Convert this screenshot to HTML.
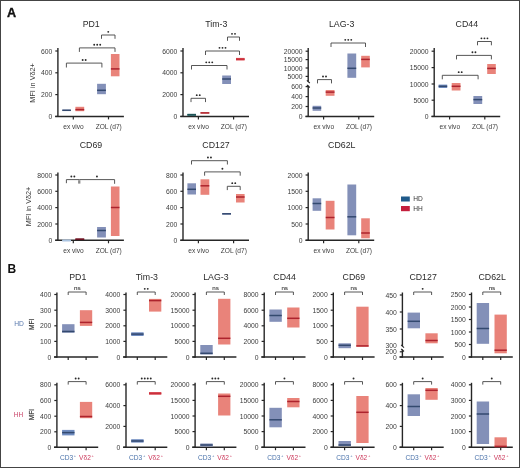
<!DOCTYPE html>
<html><head><meta charset="utf-8"><style>
html,body{margin:0;padding:0;background:#fff;}
body{width:520px;height:468px;overflow:hidden;}
svg{display:block;font-family:"Liberation Sans", sans-serif;will-change:transform;}
</style></head><body>
<svg width="520" height="468" viewBox="0 0 520 468">
<rect x="0" y="0" width="520" height="468" fill="#fff"/>
<text x="7.00" y="17.10" font-size="12.6" text-anchor="start" fill="#111" font-weight="bold" stroke="#111" stroke-width="0.35">A</text>
<text x="7.50" y="272.70" font-size="12.0" text-anchor="start" fill="#111" font-weight="bold" >B</text>
<text transform="translate(91.20 26.68) scale(1 1.1)" font-size="8.8" text-anchor="middle" fill="#2a2a2a">PD1</text>
<line x1="57.90" y1="48.10" x2="57.90" y2="117.10" stroke="#262626" stroke-width="1.4"/>
<line x1="55.30" y1="51.00" x2="57.90" y2="51.00" stroke="#262626" stroke-width="1.2"/>
<text x="52.30" y="53.52" font-size="6.8" text-anchor="end" fill="#3c3c3c" font-weight="normal" >600</text>
<line x1="55.30" y1="72.80" x2="57.90" y2="72.80" stroke="#262626" stroke-width="1.2"/>
<text x="52.30" y="75.32" font-size="6.8" text-anchor="end" fill="#3c3c3c" font-weight="normal" >400</text>
<line x1="55.30" y1="94.60" x2="57.90" y2="94.60" stroke="#262626" stroke-width="1.2"/>
<text x="52.30" y="97.12" font-size="6.8" text-anchor="end" fill="#3c3c3c" font-weight="normal" >200</text>
<line x1="55.30" y1="116.40" x2="57.90" y2="116.40" stroke="#262626" stroke-width="1.2"/>
<text x="52.30" y="118.92" font-size="6.8" text-anchor="end" fill="#3c3c3c" font-weight="normal" >0</text>
<line x1="55.20" y1="116.40" x2="123.90" y2="116.40" stroke="#262626" stroke-width="1.5"/>
<line x1="73.30" y1="116.40" x2="73.30" y2="119.40" stroke="#262626" stroke-width="1.2"/>
<line x1="108.50" y1="116.40" x2="108.50" y2="119.40" stroke="#262626" stroke-width="1.2"/>
<text x="73.50" y="129.00" font-size="6.6" text-anchor="middle" fill="#3c3c3c" font-weight="normal" >ex vivo</text>
<text x="108.70" y="129.00" font-size="6.6" text-anchor="middle" fill="#3c3c3c" font-weight="normal" >ZOL (d7)</text>
<rect x="62.30" y="109.60" width="8.60" height="1.40" fill="#8390b8"/>
<line x1="62.30" y1="110.30" x2="70.90" y2="110.30" stroke="#33496f" stroke-width="1.5"/>
<rect x="75.40" y="106.80" width="8.80" height="4.40" fill="#e9837a"/>
<line x1="75.40" y1="109.60" x2="84.20" y2="109.60" stroke="#ad232d" stroke-width="1.5"/>
<rect x="97.10" y="83.80" width="8.80" height="10.40" fill="#8390b8"/>
<line x1="97.10" y1="90.30" x2="105.90" y2="90.30" stroke="#33496f" stroke-width="1.5"/>
<rect x="110.90" y="54.00" width="8.60" height="22.30" fill="#e9837a"/>
<line x1="110.90" y1="68.90" x2="119.50" y2="68.90" stroke="#ad232d" stroke-width="1.5"/>
<path d="M66.40 67.50 V63.10 H101.90 V67.50" fill="none" stroke="#444444" stroke-width="0.9"/>
<circle cx="82.65" cy="59.95" r="0.95" fill="#2a2a2a"/>
<circle cx="85.65" cy="59.95" r="0.95" fill="#2a2a2a"/>
<path d="M79.40 51.90 V47.90 H115.00 V51.90" fill="none" stroke="#444444" stroke-width="0.9"/>
<circle cx="94.20" cy="44.75" r="0.95" fill="#2a2a2a"/>
<circle cx="97.20" cy="44.75" r="0.95" fill="#2a2a2a"/>
<circle cx="100.20" cy="44.75" r="0.95" fill="#2a2a2a"/>
<path d="M101.50 38.80 V35.00 H115.00 V38.80" fill="none" stroke="#444444" stroke-width="0.9"/>
<circle cx="108.25" cy="31.85" r="0.95" fill="#2a2a2a"/>
<text transform="translate(216.30 26.68) scale(1 1.1)" font-size="8.8" text-anchor="middle" fill="#2a2a2a">Tim-3</text>
<line x1="183.00" y1="48.10" x2="183.00" y2="117.10" stroke="#262626" stroke-width="1.4"/>
<line x1="180.40" y1="51.00" x2="183.00" y2="51.00" stroke="#262626" stroke-width="1.2"/>
<text x="177.40" y="53.52" font-size="6.8" text-anchor="end" fill="#3c3c3c" font-weight="normal" >6000</text>
<line x1="180.40" y1="72.80" x2="183.00" y2="72.80" stroke="#262626" stroke-width="1.2"/>
<text x="177.40" y="75.32" font-size="6.8" text-anchor="end" fill="#3c3c3c" font-weight="normal" >4000</text>
<line x1="180.40" y1="94.60" x2="183.00" y2="94.60" stroke="#262626" stroke-width="1.2"/>
<text x="177.40" y="97.12" font-size="6.8" text-anchor="end" fill="#3c3c3c" font-weight="normal" >2000</text>
<line x1="180.40" y1="116.40" x2="183.00" y2="116.40" stroke="#262626" stroke-width="1.2"/>
<text x="177.40" y="118.92" font-size="6.8" text-anchor="end" fill="#3c3c3c" font-weight="normal" >0</text>
<line x1="180.30" y1="116.40" x2="249.00" y2="116.40" stroke="#262626" stroke-width="1.5"/>
<line x1="198.40" y1="116.40" x2="198.40" y2="119.40" stroke="#262626" stroke-width="1.2"/>
<line x1="233.60" y1="116.40" x2="233.60" y2="119.40" stroke="#262626" stroke-width="1.2"/>
<text x="198.60" y="129.00" font-size="6.6" text-anchor="middle" fill="#3c3c3c" font-weight="normal" >ex vivo</text>
<text x="233.80" y="129.00" font-size="6.6" text-anchor="middle" fill="#3c3c3c" font-weight="normal" >ZOL (d7)</text>
<rect x="187.40" y="113.80" width="8.60" height="2.00" fill="#2d6b6e"/>
<line x1="187.40" y1="114.80" x2="196.00" y2="114.80" stroke="#1f5456" stroke-width="1.5"/>
<rect x="200.50" y="112.20" width="8.80" height="1.40" fill="#e9837a"/>
<line x1="200.50" y1="112.90" x2="209.30" y2="112.90" stroke="#ad232d" stroke-width="1.5"/>
<rect x="222.20" y="75.50" width="8.80" height="8.50" fill="#8390b8"/>
<line x1="222.20" y1="79.00" x2="231.00" y2="79.00" stroke="#33496f" stroke-width="1.5"/>
<rect x="236.00" y="57.90" width="8.60" height="2.60" fill="#e05058"/>
<line x1="236.00" y1="59.20" x2="244.60" y2="59.20" stroke="#c8303c" stroke-width="1.5"/>
<path d="M191.00 102.10 V98.30 H205.50 V102.10" fill="none" stroke="#444444" stroke-width="0.9"/>
<circle cx="196.75" cy="95.15" r="0.95" fill="#2a2a2a"/>
<circle cx="199.75" cy="95.15" r="0.95" fill="#2a2a2a"/>
<path d="M191.50 69.50 V65.50 H227.00 V69.50" fill="none" stroke="#444444" stroke-width="0.9"/>
<circle cx="206.25" cy="62.35" r="0.95" fill="#2a2a2a"/>
<circle cx="209.25" cy="62.35" r="0.95" fill="#2a2a2a"/>
<circle cx="212.25" cy="62.35" r="0.95" fill="#2a2a2a"/>
<path d="M205.50 55.00 V51.00 H239.50 V55.00" fill="none" stroke="#444444" stroke-width="0.9"/>
<circle cx="219.50" cy="47.85" r="0.95" fill="#2a2a2a"/>
<circle cx="222.50" cy="47.85" r="0.95" fill="#2a2a2a"/>
<circle cx="225.50" cy="47.85" r="0.95" fill="#2a2a2a"/>
<path d="M227.50 40.80 V37.00 H239.50 V40.80" fill="none" stroke="#444444" stroke-width="0.9"/>
<circle cx="232.00" cy="33.85" r="0.95" fill="#2a2a2a"/>
<circle cx="235.00" cy="33.85" r="0.95" fill="#2a2a2a"/>
<text transform="translate(341.60 26.68) scale(1 1.1)" font-size="8.8" text-anchor="middle" fill="#2a2a2a">LAG-3</text>
<line x1="308.20" y1="48.10" x2="308.20" y2="81.60" stroke="#262626" stroke-width="1.4"/>
<line x1="308.20" y1="85.40" x2="308.20" y2="117.10" stroke="#262626" stroke-width="1.4"/>
<line x1="306.90" y1="80.30" x2="309.80" y2="83.00" stroke="#262626" stroke-width="1.1"/>
<line x1="306.90" y1="84.80" x2="309.80" y2="87.50" stroke="#262626" stroke-width="1.1"/>
<line x1="305.60" y1="51.20" x2="308.20" y2="51.20" stroke="#262626" stroke-width="1.2"/>
<text x="302.60" y="53.72" font-size="6.8" text-anchor="end" fill="#3c3c3c" font-weight="normal" >20000</text>
<line x1="305.60" y1="59.60" x2="308.20" y2="59.60" stroke="#262626" stroke-width="1.2"/>
<text x="302.60" y="62.12" font-size="6.8" text-anchor="end" fill="#3c3c3c" font-weight="normal" >15000</text>
<line x1="305.60" y1="68.00" x2="308.20" y2="68.00" stroke="#262626" stroke-width="1.2"/>
<text x="302.60" y="70.52" font-size="6.8" text-anchor="end" fill="#3c3c3c" font-weight="normal" >10000</text>
<line x1="305.60" y1="76.40" x2="308.20" y2="76.40" stroke="#262626" stroke-width="1.2"/>
<text x="302.60" y="78.92" font-size="6.8" text-anchor="end" fill="#3c3c3c" font-weight="normal" >5000</text>
<line x1="305.60" y1="86.60" x2="308.20" y2="86.60" stroke="#262626" stroke-width="1.2"/>
<text x="302.60" y="89.12" font-size="6.8" text-anchor="end" fill="#3c3c3c" font-weight="normal" >600</text>
<line x1="305.60" y1="96.60" x2="308.20" y2="96.60" stroke="#262626" stroke-width="1.2"/>
<text x="302.60" y="99.12" font-size="6.8" text-anchor="end" fill="#3c3c3c" font-weight="normal" >400</text>
<line x1="305.60" y1="106.50" x2="308.20" y2="106.50" stroke="#262626" stroke-width="1.2"/>
<text x="302.60" y="109.02" font-size="6.8" text-anchor="end" fill="#3c3c3c" font-weight="normal" >200</text>
<line x1="305.60" y1="116.40" x2="308.20" y2="116.40" stroke="#262626" stroke-width="1.2"/>
<text x="302.60" y="118.92" font-size="6.8" text-anchor="end" fill="#3c3c3c" font-weight="normal" >0</text>
<line x1="305.50" y1="116.40" x2="374.20" y2="116.40" stroke="#262626" stroke-width="1.5"/>
<line x1="323.60" y1="116.40" x2="323.60" y2="119.40" stroke="#262626" stroke-width="1.2"/>
<line x1="358.80" y1="116.40" x2="358.80" y2="119.40" stroke="#262626" stroke-width="1.2"/>
<text x="323.80" y="129.00" font-size="6.6" text-anchor="middle" fill="#3c3c3c" font-weight="normal" >ex vivo</text>
<text x="359.00" y="129.00" font-size="6.6" text-anchor="middle" fill="#3c3c3c" font-weight="normal" >ZOL (d7)</text>
<rect x="312.60" y="105.80" width="8.60" height="5.00" fill="#8390b8"/>
<line x1="312.60" y1="108.00" x2="321.20" y2="108.00" stroke="#33496f" stroke-width="1.5"/>
<rect x="325.70" y="90.00" width="8.80" height="5.80" fill="#e9837a"/>
<line x1="325.70" y1="92.10" x2="334.50" y2="92.10" stroke="#ad232d" stroke-width="1.5"/>
<rect x="347.40" y="53.50" width="8.80" height="24.30" fill="#8390b8"/>
<line x1="347.40" y1="68.30" x2="356.20" y2="68.30" stroke="#33496f" stroke-width="1.5"/>
<rect x="361.20" y="55.80" width="8.60" height="11.60" fill="#e9837a"/>
<line x1="361.20" y1="59.40" x2="369.80" y2="59.40" stroke="#ad232d" stroke-width="1.5"/>
<path d="M317.50 83.40 V79.60 H331.50 V83.40" fill="none" stroke="#444444" stroke-width="0.9"/>
<circle cx="323.00" cy="76.45" r="0.95" fill="#2a2a2a"/>
<circle cx="326.00" cy="76.45" r="0.95" fill="#2a2a2a"/>
<path d="M331.00 47.00 V43.00 H365.50 V47.00" fill="none" stroke="#444444" stroke-width="0.9"/>
<circle cx="345.25" cy="39.85" r="0.95" fill="#2a2a2a"/>
<circle cx="348.25" cy="39.85" r="0.95" fill="#2a2a2a"/>
<circle cx="351.25" cy="39.85" r="0.95" fill="#2a2a2a"/>
<text transform="translate(466.80 26.68) scale(1 1.1)" font-size="8.8" text-anchor="middle" fill="#2a2a2a">CD44</text>
<line x1="434.20" y1="48.10" x2="434.20" y2="117.10" stroke="#262626" stroke-width="1.4"/>
<line x1="431.60" y1="51.20" x2="434.20" y2="51.20" stroke="#262626" stroke-width="1.2"/>
<text x="428.60" y="53.72" font-size="6.8" text-anchor="end" fill="#3c3c3c" font-weight="normal" >20000</text>
<line x1="431.60" y1="67.60" x2="434.20" y2="67.60" stroke="#262626" stroke-width="1.2"/>
<text x="428.60" y="70.12" font-size="6.8" text-anchor="end" fill="#3c3c3c" font-weight="normal" >15000</text>
<line x1="431.60" y1="84.00" x2="434.20" y2="84.00" stroke="#262626" stroke-width="1.2"/>
<text x="428.60" y="86.52" font-size="6.8" text-anchor="end" fill="#3c3c3c" font-weight="normal" >10000</text>
<line x1="431.60" y1="100.20" x2="434.20" y2="100.20" stroke="#262626" stroke-width="1.2"/>
<text x="428.60" y="102.72" font-size="6.8" text-anchor="end" fill="#3c3c3c" font-weight="normal" >5000</text>
<line x1="431.60" y1="116.40" x2="434.20" y2="116.40" stroke="#262626" stroke-width="1.2"/>
<text x="428.60" y="118.92" font-size="6.8" text-anchor="end" fill="#3c3c3c" font-weight="normal" >0</text>
<line x1="431.50" y1="116.40" x2="500.20" y2="116.40" stroke="#262626" stroke-width="1.5"/>
<line x1="449.60" y1="116.40" x2="449.60" y2="119.40" stroke="#262626" stroke-width="1.2"/>
<line x1="484.80" y1="116.40" x2="484.80" y2="119.40" stroke="#262626" stroke-width="1.2"/>
<text x="449.80" y="129.00" font-size="6.6" text-anchor="middle" fill="#3c3c3c" font-weight="normal" >ex vivo</text>
<text x="485.00" y="129.00" font-size="6.6" text-anchor="middle" fill="#3c3c3c" font-weight="normal" >ZOL (d7)</text>
<rect x="438.60" y="84.60" width="8.60" height="3.40" fill="#6f8cc0"/>
<line x1="438.60" y1="86.30" x2="447.20" y2="86.30" stroke="#33496f" stroke-width="1.5"/>
<rect x="451.70" y="83.00" width="8.80" height="7.50" fill="#e9837a"/>
<line x1="451.70" y1="86.30" x2="460.50" y2="86.30" stroke="#ad232d" stroke-width="1.5"/>
<rect x="473.40" y="96.00" width="8.80" height="8.00" fill="#8390b8"/>
<line x1="473.40" y1="99.60" x2="482.20" y2="99.60" stroke="#33496f" stroke-width="1.5"/>
<rect x="487.20" y="64.00" width="8.60" height="10.00" fill="#e9837a"/>
<line x1="487.20" y1="68.40" x2="495.80" y2="68.40" stroke="#ad232d" stroke-width="1.5"/>
<path d="M442.30 79.30 V75.30 H478.10 V79.30" fill="none" stroke="#444444" stroke-width="0.9"/>
<circle cx="458.70" cy="72.15" r="0.95" fill="#2a2a2a"/>
<circle cx="461.70" cy="72.15" r="0.95" fill="#2a2a2a"/>
<path d="M456.50 59.40 V55.40 H491.40 V59.40" fill="none" stroke="#444444" stroke-width="0.9"/>
<circle cx="472.45" cy="52.25" r="0.95" fill="#2a2a2a"/>
<circle cx="475.45" cy="52.25" r="0.95" fill="#2a2a2a"/>
<path d="M477.50 45.30 V41.50 H491.40 V45.30" fill="none" stroke="#444444" stroke-width="0.9"/>
<circle cx="481.45" cy="38.35" r="0.95" fill="#2a2a2a"/>
<circle cx="484.45" cy="38.35" r="0.95" fill="#2a2a2a"/>
<circle cx="487.45" cy="38.35" r="0.95" fill="#2a2a2a"/>
<text transform="translate(91.00 147.68) scale(1 1.1)" font-size="8.8" text-anchor="middle" fill="#2a2a2a">CD69</text>
<line x1="57.90" y1="172.50" x2="57.90" y2="241.00" stroke="#262626" stroke-width="1.4"/>
<line x1="55.30" y1="175.00" x2="57.90" y2="175.00" stroke="#262626" stroke-width="1.2"/>
<text x="52.30" y="177.52" font-size="6.8" text-anchor="end" fill="#3c3c3c" font-weight="normal" >8000</text>
<line x1="55.30" y1="191.30" x2="57.90" y2="191.30" stroke="#262626" stroke-width="1.2"/>
<text x="52.30" y="193.82" font-size="6.8" text-anchor="end" fill="#3c3c3c" font-weight="normal" >6000</text>
<line x1="55.30" y1="207.60" x2="57.90" y2="207.60" stroke="#262626" stroke-width="1.2"/>
<text x="52.30" y="210.12" font-size="6.8" text-anchor="end" fill="#3c3c3c" font-weight="normal" >4000</text>
<line x1="55.30" y1="224.00" x2="57.90" y2="224.00" stroke="#262626" stroke-width="1.2"/>
<text x="52.30" y="226.52" font-size="6.8" text-anchor="end" fill="#3c3c3c" font-weight="normal" >2000</text>
<line x1="55.30" y1="240.30" x2="57.90" y2="240.30" stroke="#262626" stroke-width="1.2"/>
<text x="52.30" y="242.82" font-size="6.8" text-anchor="end" fill="#3c3c3c" font-weight="normal" >0</text>
<line x1="55.20" y1="240.30" x2="123.90" y2="240.30" stroke="#262626" stroke-width="1.5"/>
<line x1="73.30" y1="240.30" x2="73.30" y2="243.30" stroke="#262626" stroke-width="1.2"/>
<line x1="108.50" y1="240.30" x2="108.50" y2="243.30" stroke="#262626" stroke-width="1.2"/>
<text x="73.50" y="252.90" font-size="6.6" text-anchor="middle" fill="#3c3c3c" font-weight="normal" >ex vivo</text>
<text x="108.70" y="252.90" font-size="6.6" text-anchor="middle" fill="#3c3c3c" font-weight="normal" >ZOL (d7)</text>
<rect x="62.30" y="239.60" width="8.60" height="1.80" fill="#b8cde6"/>
<line x1="62.30" y1="240.50" x2="70.90" y2="240.50" stroke="#a9c3e0" stroke-width="1.5"/>
<rect x="75.40" y="238.50" width="8.80" height="1.50" fill="#7a1a28"/>
<line x1="75.40" y1="239.30" x2="84.20" y2="239.30" stroke="#6a1020" stroke-width="1.5"/>
<rect x="97.10" y="227.00" width="8.80" height="10.50" fill="#8390b8"/>
<line x1="97.10" y1="230.50" x2="105.90" y2="230.50" stroke="#33496f" stroke-width="1.5"/>
<rect x="110.90" y="186.50" width="8.60" height="49.50" fill="#e9837a"/>
<line x1="110.90" y1="207.50" x2="119.50" y2="207.50" stroke="#ad232d" stroke-width="1.5"/>
<path d="M66.40 183.20 V179.60 H79.30 V179.60" fill="none" stroke="#444444" stroke-width="0.9"/>
<circle cx="71.35" cy="176.45" r="0.95" fill="#2a2a2a"/>
<circle cx="74.35" cy="176.45" r="0.95" fill="#2a2a2a"/>
<path d="M79.30 179.60 V179.60 H114.60 V183.80" fill="none" stroke="#444444" stroke-width="0.9"/>
<circle cx="96.95" cy="176.45" r="0.95" fill="#2a2a2a"/>
<rect x="78.1" y="180.2" width="2.3" height="3.4" fill="#8a8a8a"/>
<text transform="translate(216.00 147.68) scale(1 1.1)" font-size="8.8" text-anchor="middle" fill="#2a2a2a">CD127</text>
<line x1="183.00" y1="172.50" x2="183.00" y2="241.00" stroke="#262626" stroke-width="1.4"/>
<line x1="180.40" y1="175.00" x2="183.00" y2="175.00" stroke="#262626" stroke-width="1.2"/>
<text x="177.40" y="177.52" font-size="6.8" text-anchor="end" fill="#3c3c3c" font-weight="normal" >800</text>
<line x1="180.40" y1="191.30" x2="183.00" y2="191.30" stroke="#262626" stroke-width="1.2"/>
<text x="177.40" y="193.82" font-size="6.8" text-anchor="end" fill="#3c3c3c" font-weight="normal" >600</text>
<line x1="180.40" y1="207.60" x2="183.00" y2="207.60" stroke="#262626" stroke-width="1.2"/>
<text x="177.40" y="210.12" font-size="6.8" text-anchor="end" fill="#3c3c3c" font-weight="normal" >400</text>
<line x1="180.40" y1="224.00" x2="183.00" y2="224.00" stroke="#262626" stroke-width="1.2"/>
<text x="177.40" y="226.52" font-size="6.8" text-anchor="end" fill="#3c3c3c" font-weight="normal" >200</text>
<line x1="180.40" y1="240.30" x2="183.00" y2="240.30" stroke="#262626" stroke-width="1.2"/>
<text x="177.40" y="242.82" font-size="6.8" text-anchor="end" fill="#3c3c3c" font-weight="normal" >0</text>
<line x1="180.30" y1="240.30" x2="249.00" y2="240.30" stroke="#262626" stroke-width="1.5"/>
<line x1="198.40" y1="240.30" x2="198.40" y2="243.30" stroke="#262626" stroke-width="1.2"/>
<line x1="233.60" y1="240.30" x2="233.60" y2="243.30" stroke="#262626" stroke-width="1.2"/>
<text x="198.60" y="252.90" font-size="6.6" text-anchor="middle" fill="#3c3c3c" font-weight="normal" >ex vivo</text>
<text x="233.80" y="252.90" font-size="6.6" text-anchor="middle" fill="#3c3c3c" font-weight="normal" >ZOL (d7)</text>
<rect x="187.40" y="183.30" width="8.60" height="11.20" fill="#8390b8"/>
<line x1="187.40" y1="189.30" x2="196.00" y2="189.30" stroke="#33496f" stroke-width="1.5"/>
<rect x="200.50" y="179.30" width="8.80" height="15.50" fill="#e9837a"/>
<line x1="200.50" y1="185.80" x2="209.30" y2="185.80" stroke="#ad232d" stroke-width="1.5"/>
<rect x="222.20" y="213.00" width="8.80" height="1.60" fill="#8390b8"/>
<line x1="222.20" y1="213.80" x2="231.00" y2="213.80" stroke="#33496f" stroke-width="1.5"/>
<rect x="236.00" y="194.00" width="8.60" height="8.50" fill="#e9837a"/>
<line x1="236.00" y1="197.00" x2="244.60" y2="197.00" stroke="#ad232d" stroke-width="1.5"/>
<path d="M191.50 164.50 V160.70 H227.40 V164.50" fill="none" stroke="#444444" stroke-width="0.9"/>
<circle cx="207.95" cy="157.55" r="0.95" fill="#2a2a2a"/>
<circle cx="210.95" cy="157.55" r="0.95" fill="#2a2a2a"/>
<path d="M204.60 175.70 V171.90 H240.20 V175.70" fill="none" stroke="#444444" stroke-width="0.9"/>
<circle cx="222.40" cy="168.75" r="0.95" fill="#2a2a2a"/>
<path d="M227.30 190.10 V186.30 H240.20 V190.10" fill="none" stroke="#444444" stroke-width="0.9"/>
<circle cx="232.25" cy="183.15" r="0.95" fill="#2a2a2a"/>
<circle cx="235.25" cy="183.15" r="0.95" fill="#2a2a2a"/>
<text transform="translate(341.80 147.68) scale(1 1.1)" font-size="8.8" text-anchor="middle" fill="#2a2a2a">CD62L</text>
<line x1="308.20" y1="172.50" x2="308.20" y2="241.00" stroke="#262626" stroke-width="1.4"/>
<line x1="305.60" y1="175.00" x2="308.20" y2="175.00" stroke="#262626" stroke-width="1.2"/>
<text x="302.60" y="177.52" font-size="6.8" text-anchor="end" fill="#3c3c3c" font-weight="normal" >2000</text>
<line x1="305.60" y1="191.30" x2="308.20" y2="191.30" stroke="#262626" stroke-width="1.2"/>
<text x="302.60" y="193.82" font-size="6.8" text-anchor="end" fill="#3c3c3c" font-weight="normal" >1500</text>
<line x1="305.60" y1="207.60" x2="308.20" y2="207.60" stroke="#262626" stroke-width="1.2"/>
<text x="302.60" y="210.12" font-size="6.8" text-anchor="end" fill="#3c3c3c" font-weight="normal" >1000</text>
<line x1="305.60" y1="224.00" x2="308.20" y2="224.00" stroke="#262626" stroke-width="1.2"/>
<text x="302.60" y="226.52" font-size="6.8" text-anchor="end" fill="#3c3c3c" font-weight="normal" >500</text>
<line x1="305.60" y1="240.30" x2="308.20" y2="240.30" stroke="#262626" stroke-width="1.2"/>
<text x="302.60" y="242.82" font-size="6.8" text-anchor="end" fill="#3c3c3c" font-weight="normal" >0</text>
<line x1="305.50" y1="240.30" x2="374.20" y2="240.30" stroke="#262626" stroke-width="1.5"/>
<line x1="323.60" y1="240.30" x2="323.60" y2="243.30" stroke="#262626" stroke-width="1.2"/>
<line x1="358.80" y1="240.30" x2="358.80" y2="243.30" stroke="#262626" stroke-width="1.2"/>
<text x="323.80" y="252.90" font-size="6.6" text-anchor="middle" fill="#3c3c3c" font-weight="normal" >ex vivo</text>
<text x="359.00" y="252.90" font-size="6.6" text-anchor="middle" fill="#3c3c3c" font-weight="normal" >ZOL (d7)</text>
<rect x="312.60" y="198.30" width="8.60" height="12.50" fill="#8390b8"/>
<line x1="312.60" y1="203.50" x2="321.20" y2="203.50" stroke="#33496f" stroke-width="1.5"/>
<rect x="325.70" y="200.80" width="8.80" height="28.70" fill="#e9837a"/>
<line x1="325.70" y1="217.50" x2="334.50" y2="217.50" stroke="#ad232d" stroke-width="1.5"/>
<rect x="347.40" y="184.50" width="8.80" height="50.80" fill="#8390b8"/>
<line x1="347.40" y1="216.80" x2="356.20" y2="216.80" stroke="#33496f" stroke-width="1.5"/>
<rect x="361.20" y="218.30" width="8.60" height="20.00" fill="#e9837a"/>
<line x1="361.20" y1="233.00" x2="369.80" y2="233.00" stroke="#ad232d" stroke-width="1.5"/>
<text transform="translate(34.6 82.9) rotate(-90)" font-size="7.3" text-anchor="middle" fill="#3c3c3c">MFI in V&#948;2+</text>
<text transform="translate(31.0 206.4) rotate(-90)" font-size="7.3" text-anchor="middle" fill="#3c3c3c">MFI in V&#948;2+</text>
<rect x="401.0" y="196.5" width="8.8" height="5.0" fill="#1f5a8a"/>
<rect x="401.0" y="206.0" width="8.8" height="5.2" fill="#c41f3c"/>
<text x="413.30" y="201.30" font-size="6.6" text-anchor="start" fill="#333" font-weight="normal" >HD</text>
<text x="413.30" y="211.00" font-size="6.6" text-anchor="start" fill="#333" font-weight="normal" >HH</text>
<text transform="translate(77.80 280.38) scale(1 1.1)" font-size="8.8" text-anchor="middle" fill="#2a2a2a">PD1</text>
<line x1="56.90" y1="292.50" x2="56.90" y2="357.70" stroke="#262626" stroke-width="1.4"/>
<line x1="54.30" y1="294.50" x2="56.90" y2="294.50" stroke="#262626" stroke-width="1.2"/>
<text x="51.30" y="297.02" font-size="6.8" text-anchor="end" fill="#3c3c3c" font-weight="normal" >400</text>
<line x1="54.30" y1="310.20" x2="56.90" y2="310.20" stroke="#262626" stroke-width="1.2"/>
<text x="51.30" y="312.72" font-size="6.8" text-anchor="end" fill="#3c3c3c" font-weight="normal" >300</text>
<line x1="54.30" y1="325.80" x2="56.90" y2="325.80" stroke="#262626" stroke-width="1.2"/>
<text x="51.30" y="328.32" font-size="6.8" text-anchor="end" fill="#3c3c3c" font-weight="normal" >200</text>
<line x1="54.30" y1="341.40" x2="56.90" y2="341.40" stroke="#262626" stroke-width="1.2"/>
<text x="51.30" y="343.92" font-size="6.8" text-anchor="end" fill="#3c3c3c" font-weight="normal" >100</text>
<line x1="54.30" y1="357.00" x2="56.90" y2="357.00" stroke="#262626" stroke-width="1.2"/>
<text x="51.30" y="359.52" font-size="6.8" text-anchor="end" fill="#3c3c3c" font-weight="normal" >0</text>
<line x1="54.00" y1="357.00" x2="98.20" y2="357.00" stroke="#262626" stroke-width="1.5"/>
<line x1="68.20" y1="357.00" x2="68.20" y2="360.00" stroke="#262626" stroke-width="1.2"/>
<line x1="86.10" y1="357.00" x2="86.10" y2="360.00" stroke="#262626" stroke-width="1.2"/>
<rect x="62.10" y="324.20" width="12.40" height="8.50" fill="#8390b8"/>
<line x1="62.10" y1="331.50" x2="74.50" y2="331.50" stroke="#33496f" stroke-width="1.5"/>
<rect x="79.90" y="310.20" width="12.30" height="15.70" fill="#e9837a"/>
<line x1="79.90" y1="322.40" x2="92.20" y2="322.40" stroke="#ad232d" stroke-width="1.5"/>
<path d="M68.20 295.00 V292.00 H86.10 V295.00" fill="none" stroke="#444444" stroke-width="0.9"/>
<text x="77.35" y="289.80" font-size="6.2" text-anchor="middle" fill="#333" font-weight="normal" stroke="#333" stroke-width="0.1">ns</text>
<text transform="translate(146.90 280.38) scale(1 1.1)" font-size="8.8" text-anchor="middle" fill="#2a2a2a">Tim-3</text>
<line x1="126.00" y1="292.50" x2="126.00" y2="357.70" stroke="#262626" stroke-width="1.4"/>
<line x1="123.40" y1="294.50" x2="126.00" y2="294.50" stroke="#262626" stroke-width="1.2"/>
<text x="120.40" y="297.02" font-size="6.8" text-anchor="end" fill="#3c3c3c" font-weight="normal" >4000</text>
<line x1="123.40" y1="310.20" x2="126.00" y2="310.20" stroke="#262626" stroke-width="1.2"/>
<text x="120.40" y="312.72" font-size="6.8" text-anchor="end" fill="#3c3c3c" font-weight="normal" >3000</text>
<line x1="123.40" y1="325.80" x2="126.00" y2="325.80" stroke="#262626" stroke-width="1.2"/>
<text x="120.40" y="328.32" font-size="6.8" text-anchor="end" fill="#3c3c3c" font-weight="normal" >2000</text>
<line x1="123.40" y1="341.40" x2="126.00" y2="341.40" stroke="#262626" stroke-width="1.2"/>
<text x="120.40" y="343.92" font-size="6.8" text-anchor="end" fill="#3c3c3c" font-weight="normal" >1000</text>
<line x1="123.40" y1="357.00" x2="126.00" y2="357.00" stroke="#262626" stroke-width="1.2"/>
<text x="120.40" y="359.52" font-size="6.8" text-anchor="end" fill="#3c3c3c" font-weight="normal" >0</text>
<line x1="123.10" y1="357.00" x2="167.30" y2="357.00" stroke="#262626" stroke-width="1.5"/>
<line x1="137.30" y1="357.00" x2="137.30" y2="360.00" stroke="#262626" stroke-width="1.2"/>
<line x1="155.20" y1="357.00" x2="155.20" y2="360.00" stroke="#262626" stroke-width="1.2"/>
<rect x="131.20" y="332.30" width="12.40" height="3.70" fill="#6f8cc0"/>
<line x1="131.20" y1="334.10" x2="143.60" y2="334.10" stroke="#33496f" stroke-width="1.5"/>
<rect x="149.00" y="298.90" width="12.30" height="12.70" fill="#e9837a"/>
<line x1="149.00" y1="300.60" x2="161.30" y2="300.60" stroke="#ad232d" stroke-width="1.5"/>
<path d="M137.30 295.00 V292.00 H155.20 V295.00" fill="none" stroke="#444444" stroke-width="0.9"/>
<circle cx="144.75" cy="288.85" r="0.95" fill="#2a2a2a"/>
<circle cx="147.75" cy="288.85" r="0.95" fill="#2a2a2a"/>
<text transform="translate(215.90 280.38) scale(1 1.1)" font-size="8.8" text-anchor="middle" fill="#2a2a2a">LAG-3</text>
<line x1="195.10" y1="292.50" x2="195.10" y2="357.70" stroke="#262626" stroke-width="1.4"/>
<line x1="192.50" y1="294.50" x2="195.10" y2="294.50" stroke="#262626" stroke-width="1.2"/>
<text x="189.50" y="297.02" font-size="6.8" text-anchor="end" fill="#3c3c3c" font-weight="normal" >20000</text>
<line x1="192.50" y1="310.20" x2="195.10" y2="310.20" stroke="#262626" stroke-width="1.2"/>
<text x="189.50" y="312.72" font-size="6.8" text-anchor="end" fill="#3c3c3c" font-weight="normal" >15000</text>
<line x1="192.50" y1="325.80" x2="195.10" y2="325.80" stroke="#262626" stroke-width="1.2"/>
<text x="189.50" y="328.32" font-size="6.8" text-anchor="end" fill="#3c3c3c" font-weight="normal" >10000</text>
<line x1="192.50" y1="341.40" x2="195.10" y2="341.40" stroke="#262626" stroke-width="1.2"/>
<text x="189.50" y="343.92" font-size="6.8" text-anchor="end" fill="#3c3c3c" font-weight="normal" >5000</text>
<line x1="192.50" y1="357.00" x2="195.10" y2="357.00" stroke="#262626" stroke-width="1.2"/>
<text x="189.50" y="359.52" font-size="6.8" text-anchor="end" fill="#3c3c3c" font-weight="normal" >0</text>
<line x1="192.20" y1="357.00" x2="236.40" y2="357.00" stroke="#262626" stroke-width="1.5"/>
<line x1="206.40" y1="357.00" x2="206.40" y2="360.00" stroke="#262626" stroke-width="1.2"/>
<line x1="224.30" y1="357.00" x2="224.30" y2="360.00" stroke="#262626" stroke-width="1.2"/>
<rect x="200.30" y="345.00" width="12.40" height="9.50" fill="#8390b8"/>
<line x1="200.30" y1="353.30" x2="212.70" y2="353.30" stroke="#33496f" stroke-width="1.5"/>
<rect x="218.10" y="298.80" width="12.30" height="45.70" fill="#e9837a"/>
<line x1="218.10" y1="338.30" x2="230.40" y2="338.30" stroke="#ad232d" stroke-width="1.5"/>
<path d="M206.40 295.00 V292.00 H224.30 V295.00" fill="none" stroke="#444444" stroke-width="0.9"/>
<text x="215.55" y="289.80" font-size="6.2" text-anchor="middle" fill="#333" font-weight="normal" stroke="#333" stroke-width="0.1">ns</text>
<text transform="translate(284.60 280.38) scale(1 1.1)" font-size="8.8" text-anchor="middle" fill="#2a2a2a">CD44</text>
<line x1="264.20" y1="292.50" x2="264.20" y2="357.70" stroke="#262626" stroke-width="1.4"/>
<line x1="261.60" y1="294.50" x2="264.20" y2="294.50" stroke="#262626" stroke-width="1.2"/>
<text x="258.60" y="297.02" font-size="6.8" text-anchor="end" fill="#3c3c3c" font-weight="normal" >8000</text>
<line x1="261.60" y1="310.20" x2="264.20" y2="310.20" stroke="#262626" stroke-width="1.2"/>
<text x="258.60" y="312.72" font-size="6.8" text-anchor="end" fill="#3c3c3c" font-weight="normal" >6000</text>
<line x1="261.60" y1="325.80" x2="264.20" y2="325.80" stroke="#262626" stroke-width="1.2"/>
<text x="258.60" y="328.32" font-size="6.8" text-anchor="end" fill="#3c3c3c" font-weight="normal" >4000</text>
<line x1="261.60" y1="341.40" x2="264.20" y2="341.40" stroke="#262626" stroke-width="1.2"/>
<text x="258.60" y="343.92" font-size="6.8" text-anchor="end" fill="#3c3c3c" font-weight="normal" >2000</text>
<line x1="261.60" y1="357.00" x2="264.20" y2="357.00" stroke="#262626" stroke-width="1.2"/>
<text x="258.60" y="359.52" font-size="6.8" text-anchor="end" fill="#3c3c3c" font-weight="normal" >0</text>
<line x1="261.30" y1="357.00" x2="305.50" y2="357.00" stroke="#262626" stroke-width="1.5"/>
<line x1="275.50" y1="357.00" x2="275.50" y2="360.00" stroke="#262626" stroke-width="1.2"/>
<line x1="293.40" y1="357.00" x2="293.40" y2="360.00" stroke="#262626" stroke-width="1.2"/>
<rect x="269.40" y="309.50" width="12.40" height="12.30" fill="#8390b8"/>
<line x1="269.40" y1="315.50" x2="281.80" y2="315.50" stroke="#33496f" stroke-width="1.5"/>
<rect x="287.20" y="307.50" width="12.30" height="20.00" fill="#e9837a"/>
<line x1="287.20" y1="318.30" x2="299.50" y2="318.30" stroke="#ad232d" stroke-width="1.5"/>
<path d="M275.50 295.00 V292.00 H293.40 V295.00" fill="none" stroke="#444444" stroke-width="0.9"/>
<text x="284.65" y="289.80" font-size="6.2" text-anchor="middle" fill="#333" font-weight="normal" stroke="#333" stroke-width="0.1">ns</text>
<text transform="translate(353.80 280.38) scale(1 1.1)" font-size="8.8" text-anchor="middle" fill="#2a2a2a">CD69</text>
<line x1="333.30" y1="292.50" x2="333.30" y2="357.70" stroke="#262626" stroke-width="1.4"/>
<line x1="330.70" y1="294.50" x2="333.30" y2="294.50" stroke="#262626" stroke-width="1.2"/>
<text x="327.70" y="297.02" font-size="6.8" text-anchor="end" fill="#3c3c3c" font-weight="normal" >2000</text>
<line x1="330.70" y1="310.20" x2="333.30" y2="310.20" stroke="#262626" stroke-width="1.2"/>
<text x="327.70" y="312.72" font-size="6.8" text-anchor="end" fill="#3c3c3c" font-weight="normal" >1500</text>
<line x1="330.70" y1="325.80" x2="333.30" y2="325.80" stroke="#262626" stroke-width="1.2"/>
<text x="327.70" y="328.32" font-size="6.8" text-anchor="end" fill="#3c3c3c" font-weight="normal" >1000</text>
<line x1="330.70" y1="341.40" x2="333.30" y2="341.40" stroke="#262626" stroke-width="1.2"/>
<text x="327.70" y="343.92" font-size="6.8" text-anchor="end" fill="#3c3c3c" font-weight="normal" >500</text>
<line x1="330.70" y1="357.00" x2="333.30" y2="357.00" stroke="#262626" stroke-width="1.2"/>
<text x="327.70" y="359.52" font-size="6.8" text-anchor="end" fill="#3c3c3c" font-weight="normal" >0</text>
<line x1="330.40" y1="357.00" x2="374.60" y2="357.00" stroke="#262626" stroke-width="1.5"/>
<line x1="344.60" y1="357.00" x2="344.60" y2="360.00" stroke="#262626" stroke-width="1.2"/>
<line x1="362.50" y1="357.00" x2="362.50" y2="360.00" stroke="#262626" stroke-width="1.2"/>
<rect x="338.50" y="343.30" width="12.40" height="4.90" fill="#8390b8"/>
<line x1="338.50" y1="345.30" x2="350.90" y2="345.30" stroke="#33496f" stroke-width="1.5"/>
<rect x="356.30" y="306.70" width="12.30" height="40.10" fill="#e9837a"/>
<line x1="356.30" y1="345.90" x2="368.60" y2="345.90" stroke="#ad232d" stroke-width="1.5"/>
<path d="M344.60 295.00 V292.00 H362.50 V295.00" fill="none" stroke="#444444" stroke-width="0.9"/>
<text x="353.75" y="289.80" font-size="6.2" text-anchor="middle" fill="#333" font-weight="normal" stroke="#333" stroke-width="0.1">ns</text>
<text transform="translate(423.10 280.38) scale(1 1.1)" font-size="8.8" text-anchor="middle" fill="#2a2a2a">CD127</text>
<line x1="402.40" y1="292.50" x2="402.40" y2="346.20" stroke="#262626" stroke-width="1.4"/>
<line x1="402.40" y1="349.40" x2="402.40" y2="357.70" stroke="#262626" stroke-width="1.4"/>
<line x1="401.10" y1="344.90" x2="404.00" y2="347.60" stroke="#262626" stroke-width="1.1"/>
<line x1="401.10" y1="348.80" x2="404.00" y2="351.50" stroke="#262626" stroke-width="1.1"/>
<line x1="399.80" y1="295.00" x2="402.40" y2="295.00" stroke="#262626" stroke-width="1.2"/>
<text x="396.80" y="297.52" font-size="6.8" text-anchor="end" fill="#3c3c3c" font-weight="normal" >450</text>
<line x1="399.80" y1="312.00" x2="402.40" y2="312.00" stroke="#262626" stroke-width="1.2"/>
<text x="396.80" y="314.52" font-size="6.8" text-anchor="end" fill="#3c3c3c" font-weight="normal" >400</text>
<line x1="399.80" y1="329.00" x2="402.40" y2="329.00" stroke="#262626" stroke-width="1.2"/>
<text x="396.80" y="331.52" font-size="6.8" text-anchor="end" fill="#3c3c3c" font-weight="normal" >350</text>
<text x="396.80" y="348.32" font-size="6.8" text-anchor="end" fill="#3c3c3c" font-weight="normal" >300</text>
<line x1="399.80" y1="351.80" x2="402.40" y2="351.80" stroke="#262626" stroke-width="1.2"/>
<text x="396.80" y="354.32" font-size="6.8" text-anchor="end" fill="#3c3c3c" font-weight="normal" >200</text>
<line x1="399.80" y1="357.00" x2="402.40" y2="357.00" stroke="#262626" stroke-width="1.2"/>
<text x="396.80" y="359.52" font-size="6.8" text-anchor="end" fill="#3c3c3c" font-weight="normal" >0</text>
<line x1="399.50" y1="357.00" x2="443.70" y2="357.00" stroke="#262626" stroke-width="1.5"/>
<line x1="413.70" y1="357.00" x2="413.70" y2="360.00" stroke="#262626" stroke-width="1.2"/>
<line x1="431.60" y1="357.00" x2="431.60" y2="360.00" stroke="#262626" stroke-width="1.2"/>
<rect x="407.60" y="312.60" width="12.40" height="15.70" fill="#8390b8"/>
<line x1="407.60" y1="321.30" x2="420.00" y2="321.30" stroke="#33496f" stroke-width="1.5"/>
<rect x="425.40" y="333.30" width="12.30" height="10.00" fill="#e9837a"/>
<line x1="425.40" y1="340.50" x2="437.70" y2="340.50" stroke="#ad232d" stroke-width="1.5"/>
<path d="M413.70 295.00 V292.00 H431.60 V295.00" fill="none" stroke="#444444" stroke-width="0.9"/>
<circle cx="422.65" cy="288.85" r="0.95" fill="#2a2a2a"/>
<text transform="translate(492.20 280.38) scale(1 1.1)" font-size="8.8" text-anchor="middle" fill="#2a2a2a">CD62L</text>
<line x1="471.50" y1="292.50" x2="471.50" y2="357.70" stroke="#262626" stroke-width="1.4"/>
<line x1="468.90" y1="294.50" x2="471.50" y2="294.50" stroke="#262626" stroke-width="1.2"/>
<text x="465.90" y="297.02" font-size="6.8" text-anchor="end" fill="#3c3c3c" font-weight="normal" >2500</text>
<line x1="468.90" y1="307.00" x2="471.50" y2="307.00" stroke="#262626" stroke-width="1.2"/>
<text x="465.90" y="309.52" font-size="6.8" text-anchor="end" fill="#3c3c3c" font-weight="normal" >2000</text>
<line x1="468.90" y1="319.50" x2="471.50" y2="319.50" stroke="#262626" stroke-width="1.2"/>
<text x="465.90" y="322.02" font-size="6.8" text-anchor="end" fill="#3c3c3c" font-weight="normal" >1500</text>
<line x1="468.90" y1="332.00" x2="471.50" y2="332.00" stroke="#262626" stroke-width="1.2"/>
<text x="465.90" y="334.52" font-size="6.8" text-anchor="end" fill="#3c3c3c" font-weight="normal" >1000</text>
<line x1="468.90" y1="344.50" x2="471.50" y2="344.50" stroke="#262626" stroke-width="1.2"/>
<text x="465.90" y="347.02" font-size="6.8" text-anchor="end" fill="#3c3c3c" font-weight="normal" >500</text>
<line x1="468.90" y1="357.00" x2="471.50" y2="357.00" stroke="#262626" stroke-width="1.2"/>
<text x="465.90" y="359.52" font-size="6.8" text-anchor="end" fill="#3c3c3c" font-weight="normal" >0</text>
<line x1="468.60" y1="357.00" x2="512.80" y2="357.00" stroke="#262626" stroke-width="1.5"/>
<line x1="482.80" y1="357.00" x2="482.80" y2="360.00" stroke="#262626" stroke-width="1.2"/>
<line x1="500.70" y1="357.00" x2="500.70" y2="360.00" stroke="#262626" stroke-width="1.2"/>
<rect x="476.70" y="303.00" width="12.40" height="40.80" fill="#8390b8"/>
<line x1="476.70" y1="328.50" x2="489.10" y2="328.50" stroke="#33496f" stroke-width="1.5"/>
<rect x="494.50" y="314.60" width="12.30" height="38.70" fill="#e9837a"/>
<line x1="494.50" y1="350.20" x2="506.80" y2="350.20" stroke="#ad232d" stroke-width="1.5"/>
<path d="M482.80 295.00 V292.00 H500.70 V295.00" fill="none" stroke="#444444" stroke-width="0.9"/>
<text x="491.95" y="289.80" font-size="6.2" text-anchor="middle" fill="#333" font-weight="normal" stroke="#333" stroke-width="0.1">ns</text>
<line x1="56.90" y1="382.80" x2="56.90" y2="447.90" stroke="#262626" stroke-width="1.4"/>
<line x1="54.30" y1="384.80" x2="56.90" y2="384.80" stroke="#262626" stroke-width="1.2"/>
<text x="51.30" y="387.32" font-size="6.8" text-anchor="end" fill="#3c3c3c" font-weight="normal" >800</text>
<line x1="54.30" y1="400.50" x2="56.90" y2="400.50" stroke="#262626" stroke-width="1.2"/>
<text x="51.30" y="403.02" font-size="6.8" text-anchor="end" fill="#3c3c3c" font-weight="normal" >600</text>
<line x1="54.30" y1="416.20" x2="56.90" y2="416.20" stroke="#262626" stroke-width="1.2"/>
<text x="51.30" y="418.72" font-size="6.8" text-anchor="end" fill="#3c3c3c" font-weight="normal" >400</text>
<line x1="54.30" y1="431.80" x2="56.90" y2="431.80" stroke="#262626" stroke-width="1.2"/>
<text x="51.30" y="434.32" font-size="6.8" text-anchor="end" fill="#3c3c3c" font-weight="normal" >200</text>
<line x1="54.30" y1="447.20" x2="56.90" y2="447.20" stroke="#262626" stroke-width="1.2"/>
<text x="51.30" y="449.72" font-size="6.8" text-anchor="end" fill="#3c3c3c" font-weight="normal" >0</text>
<line x1="54.00" y1="447.20" x2="98.20" y2="447.20" stroke="#262626" stroke-width="1.5"/>
<line x1="68.20" y1="447.20" x2="68.20" y2="450.20" stroke="#262626" stroke-width="1.2"/>
<line x1="86.10" y1="447.20" x2="86.10" y2="450.20" stroke="#262626" stroke-width="1.2"/>
<rect x="62.10" y="429.90" width="12.40" height="5.50" fill="#6f8cc0"/>
<line x1="62.10" y1="432.60" x2="74.50" y2="432.60" stroke="#33496f" stroke-width="1.5"/>
<rect x="79.90" y="401.90" width="12.30" height="16.30" fill="#e9837a"/>
<line x1="79.90" y1="416.50" x2="92.20" y2="416.50" stroke="#ad232d" stroke-width="1.5"/>
<path d="M68.20 384.60 V381.60 H86.10 V384.60" fill="none" stroke="#444444" stroke-width="0.9"/>
<circle cx="75.65" cy="378.45" r="0.95" fill="#2a2a2a"/>
<circle cx="78.65" cy="378.45" r="0.95" fill="#2a2a2a"/>
<text x="68.00" y="460.00" font-size="6.6" text-anchor="middle" fill="#4a72aa" font-weight="normal" >CD3<tspan font-size="4" dx="0.7" dy="-3.3">+</tspan></text>
<text x="86.50" y="460.00" font-size="6.6" text-anchor="middle" fill="#cc3a5c" font-weight="normal" >V&#948;2<tspan font-size="4" dx="0.7" dy="-3.3">+</tspan></text>
<line x1="126.00" y1="382.80" x2="126.00" y2="447.90" stroke="#262626" stroke-width="1.4"/>
<line x1="123.40" y1="384.80" x2="126.00" y2="384.80" stroke="#262626" stroke-width="1.2"/>
<text x="120.40" y="387.32" font-size="6.8" text-anchor="end" fill="#3c3c3c" font-weight="normal" >6000</text>
<line x1="123.40" y1="405.60" x2="126.00" y2="405.60" stroke="#262626" stroke-width="1.2"/>
<text x="120.40" y="408.12" font-size="6.8" text-anchor="end" fill="#3c3c3c" font-weight="normal" >4000</text>
<line x1="123.40" y1="426.40" x2="126.00" y2="426.40" stroke="#262626" stroke-width="1.2"/>
<text x="120.40" y="428.92" font-size="6.8" text-anchor="end" fill="#3c3c3c" font-weight="normal" >2000</text>
<line x1="123.40" y1="447.20" x2="126.00" y2="447.20" stroke="#262626" stroke-width="1.2"/>
<text x="120.40" y="449.72" font-size="6.8" text-anchor="end" fill="#3c3c3c" font-weight="normal" >0</text>
<line x1="123.10" y1="447.20" x2="167.30" y2="447.20" stroke="#262626" stroke-width="1.5"/>
<line x1="137.30" y1="447.20" x2="137.30" y2="450.20" stroke="#262626" stroke-width="1.2"/>
<line x1="155.20" y1="447.20" x2="155.20" y2="450.20" stroke="#262626" stroke-width="1.2"/>
<rect x="131.20" y="439.20" width="12.40" height="3.40" fill="#6f8cc0"/>
<line x1="131.20" y1="441.00" x2="143.60" y2="441.00" stroke="#33496f" stroke-width="1.5"/>
<rect x="149.00" y="392.10" width="12.30" height="2.60" fill="#dd4a55"/>
<line x1="149.00" y1="393.40" x2="161.30" y2="393.40" stroke="#c8303c" stroke-width="1.5"/>
<path d="M137.30 384.60 V381.60 H155.20 V384.60" fill="none" stroke="#444444" stroke-width="0.9"/>
<circle cx="141.75" cy="378.45" r="0.95" fill="#2a2a2a"/>
<circle cx="144.75" cy="378.45" r="0.95" fill="#2a2a2a"/>
<circle cx="147.75" cy="378.45" r="0.95" fill="#2a2a2a"/>
<circle cx="150.75" cy="378.45" r="0.95" fill="#2a2a2a"/>
<text x="137.10" y="460.00" font-size="6.6" text-anchor="middle" fill="#4a72aa" font-weight="normal" >CD3<tspan font-size="4" dx="0.7" dy="-3.3">+</tspan></text>
<text x="155.60" y="460.00" font-size="6.6" text-anchor="middle" fill="#cc3a5c" font-weight="normal" >V&#948;2<tspan font-size="4" dx="0.7" dy="-3.3">+</tspan></text>
<line x1="195.10" y1="382.80" x2="195.10" y2="447.90" stroke="#262626" stroke-width="1.4"/>
<line x1="192.50" y1="384.80" x2="195.10" y2="384.80" stroke="#262626" stroke-width="1.2"/>
<text x="189.50" y="387.32" font-size="6.8" text-anchor="end" fill="#3c3c3c" font-weight="normal" >20000</text>
<line x1="192.50" y1="400.40" x2="195.10" y2="400.40" stroke="#262626" stroke-width="1.2"/>
<text x="189.50" y="402.92" font-size="6.8" text-anchor="end" fill="#3c3c3c" font-weight="normal" >15000</text>
<line x1="192.50" y1="416.00" x2="195.10" y2="416.00" stroke="#262626" stroke-width="1.2"/>
<text x="189.50" y="418.52" font-size="6.8" text-anchor="end" fill="#3c3c3c" font-weight="normal" >10000</text>
<line x1="192.50" y1="431.60" x2="195.10" y2="431.60" stroke="#262626" stroke-width="1.2"/>
<text x="189.50" y="434.12" font-size="6.8" text-anchor="end" fill="#3c3c3c" font-weight="normal" >5000</text>
<line x1="192.50" y1="447.20" x2="195.10" y2="447.20" stroke="#262626" stroke-width="1.2"/>
<text x="189.50" y="449.72" font-size="6.8" text-anchor="end" fill="#3c3c3c" font-weight="normal" >0</text>
<line x1="192.20" y1="447.20" x2="236.40" y2="447.20" stroke="#262626" stroke-width="1.5"/>
<line x1="206.40" y1="447.20" x2="206.40" y2="450.20" stroke="#262626" stroke-width="1.2"/>
<line x1="224.30" y1="447.20" x2="224.30" y2="450.20" stroke="#262626" stroke-width="1.2"/>
<rect x="200.30" y="443.50" width="12.40" height="3.00" fill="#8390b8"/>
<line x1="200.30" y1="445.00" x2="212.70" y2="445.00" stroke="#33496f" stroke-width="1.5"/>
<rect x="218.10" y="393.50" width="12.30" height="22.00" fill="#e9837a"/>
<line x1="218.10" y1="396.30" x2="230.40" y2="396.30" stroke="#ad232d" stroke-width="1.5"/>
<path d="M206.40 384.60 V381.60 H224.30 V384.60" fill="none" stroke="#444444" stroke-width="0.9"/>
<circle cx="212.35" cy="378.45" r="0.95" fill="#2a2a2a"/>
<circle cx="215.35" cy="378.45" r="0.95" fill="#2a2a2a"/>
<circle cx="218.35" cy="378.45" r="0.95" fill="#2a2a2a"/>
<text x="206.20" y="460.00" font-size="6.6" text-anchor="middle" fill="#4a72aa" font-weight="normal" >CD3<tspan font-size="4" dx="0.7" dy="-3.3">+</tspan></text>
<text x="224.70" y="460.00" font-size="6.6" text-anchor="middle" fill="#cc3a5c" font-weight="normal" >V&#948;2<tspan font-size="4" dx="0.7" dy="-3.3">+</tspan></text>
<line x1="264.20" y1="382.80" x2="264.20" y2="447.90" stroke="#262626" stroke-width="1.4"/>
<line x1="261.60" y1="384.80" x2="264.20" y2="384.80" stroke="#262626" stroke-width="1.2"/>
<text x="258.60" y="387.32" font-size="6.8" text-anchor="end" fill="#3c3c3c" font-weight="normal" >20000</text>
<line x1="261.60" y1="400.40" x2="264.20" y2="400.40" stroke="#262626" stroke-width="1.2"/>
<text x="258.60" y="402.92" font-size="6.8" text-anchor="end" fill="#3c3c3c" font-weight="normal" >15000</text>
<line x1="261.60" y1="416.00" x2="264.20" y2="416.00" stroke="#262626" stroke-width="1.2"/>
<text x="258.60" y="418.52" font-size="6.8" text-anchor="end" fill="#3c3c3c" font-weight="normal" >10000</text>
<line x1="261.60" y1="431.60" x2="264.20" y2="431.60" stroke="#262626" stroke-width="1.2"/>
<text x="258.60" y="434.12" font-size="6.8" text-anchor="end" fill="#3c3c3c" font-weight="normal" >5000</text>
<line x1="261.60" y1="447.20" x2="264.20" y2="447.20" stroke="#262626" stroke-width="1.2"/>
<text x="258.60" y="449.72" font-size="6.8" text-anchor="end" fill="#3c3c3c" font-weight="normal" >0</text>
<line x1="261.30" y1="447.20" x2="305.50" y2="447.20" stroke="#262626" stroke-width="1.5"/>
<line x1="275.50" y1="447.20" x2="275.50" y2="450.20" stroke="#262626" stroke-width="1.2"/>
<line x1="293.40" y1="447.20" x2="293.40" y2="450.20" stroke="#262626" stroke-width="1.2"/>
<rect x="269.40" y="407.80" width="12.40" height="19.50" fill="#8390b8"/>
<line x1="269.40" y1="419.80" x2="281.80" y2="419.80" stroke="#33496f" stroke-width="1.5"/>
<rect x="287.20" y="398.00" width="12.30" height="9.30" fill="#e9837a"/>
<line x1="287.20" y1="401.50" x2="299.50" y2="401.50" stroke="#ad232d" stroke-width="1.5"/>
<path d="M275.50 384.60 V381.60 H293.40 V384.60" fill="none" stroke="#444444" stroke-width="0.9"/>
<circle cx="284.45" cy="378.45" r="0.95" fill="#2a2a2a"/>
<text x="275.30" y="460.00" font-size="6.6" text-anchor="middle" fill="#4a72aa" font-weight="normal" >CD3<tspan font-size="4" dx="0.7" dy="-3.3">+</tspan></text>
<text x="293.80" y="460.00" font-size="6.6" text-anchor="middle" fill="#cc3a5c" font-weight="normal" >V&#948;2<tspan font-size="4" dx="0.7" dy="-3.3">+</tspan></text>
<line x1="333.30" y1="382.80" x2="333.30" y2="447.90" stroke="#262626" stroke-width="1.4"/>
<line x1="330.70" y1="384.80" x2="333.30" y2="384.80" stroke="#262626" stroke-width="1.2"/>
<text x="327.70" y="387.32" font-size="6.8" text-anchor="end" fill="#3c3c3c" font-weight="normal" >8000</text>
<line x1="330.70" y1="400.40" x2="333.30" y2="400.40" stroke="#262626" stroke-width="1.2"/>
<text x="327.70" y="402.92" font-size="6.8" text-anchor="end" fill="#3c3c3c" font-weight="normal" >6000</text>
<line x1="330.70" y1="416.00" x2="333.30" y2="416.00" stroke="#262626" stroke-width="1.2"/>
<text x="327.70" y="418.52" font-size="6.8" text-anchor="end" fill="#3c3c3c" font-weight="normal" >4000</text>
<line x1="330.70" y1="431.60" x2="333.30" y2="431.60" stroke="#262626" stroke-width="1.2"/>
<text x="327.70" y="434.12" font-size="6.8" text-anchor="end" fill="#3c3c3c" font-weight="normal" >2000</text>
<line x1="330.70" y1="447.20" x2="333.30" y2="447.20" stroke="#262626" stroke-width="1.2"/>
<text x="327.70" y="449.72" font-size="6.8" text-anchor="end" fill="#3c3c3c" font-weight="normal" >0</text>
<line x1="330.40" y1="447.20" x2="374.60" y2="447.20" stroke="#262626" stroke-width="1.5"/>
<line x1="344.60" y1="447.20" x2="344.60" y2="450.20" stroke="#262626" stroke-width="1.2"/>
<line x1="362.50" y1="447.20" x2="362.50" y2="450.20" stroke="#262626" stroke-width="1.2"/>
<rect x="338.50" y="441.00" width="12.40" height="5.00" fill="#8390b8"/>
<line x1="338.50" y1="445.00" x2="350.90" y2="445.00" stroke="#33496f" stroke-width="1.5"/>
<rect x="356.30" y="396.00" width="12.30" height="47.00" fill="#e9837a"/>
<line x1="356.30" y1="412.30" x2="368.60" y2="412.30" stroke="#ad232d" stroke-width="1.5"/>
<path d="M344.60 384.60 V381.60 H362.50 V384.60" fill="none" stroke="#444444" stroke-width="0.9"/>
<circle cx="353.55" cy="378.45" r="0.95" fill="#2a2a2a"/>
<text x="344.40" y="460.00" font-size="6.6" text-anchor="middle" fill="#4a72aa" font-weight="normal" >CD3<tspan font-size="4" dx="0.7" dy="-3.3">+</tspan></text>
<text x="362.90" y="460.00" font-size="6.6" text-anchor="middle" fill="#cc3a5c" font-weight="normal" >V&#948;2<tspan font-size="4" dx="0.7" dy="-3.3">+</tspan></text>
<line x1="402.40" y1="382.80" x2="402.40" y2="447.90" stroke="#262626" stroke-width="1.4"/>
<line x1="399.80" y1="384.80" x2="402.40" y2="384.80" stroke="#262626" stroke-width="1.2"/>
<text x="396.80" y="387.32" font-size="6.8" text-anchor="end" fill="#3c3c3c" font-weight="normal" >600</text>
<line x1="399.80" y1="405.60" x2="402.40" y2="405.60" stroke="#262626" stroke-width="1.2"/>
<text x="396.80" y="408.12" font-size="6.8" text-anchor="end" fill="#3c3c3c" font-weight="normal" >400</text>
<line x1="399.80" y1="426.40" x2="402.40" y2="426.40" stroke="#262626" stroke-width="1.2"/>
<text x="396.80" y="428.92" font-size="6.8" text-anchor="end" fill="#3c3c3c" font-weight="normal" >200</text>
<line x1="399.80" y1="447.20" x2="402.40" y2="447.20" stroke="#262626" stroke-width="1.2"/>
<text x="396.80" y="449.72" font-size="6.8" text-anchor="end" fill="#3c3c3c" font-weight="normal" >0</text>
<line x1="399.50" y1="447.20" x2="443.70" y2="447.20" stroke="#262626" stroke-width="1.5"/>
<line x1="413.70" y1="447.20" x2="413.70" y2="450.20" stroke="#262626" stroke-width="1.2"/>
<line x1="431.60" y1="447.20" x2="431.60" y2="450.20" stroke="#262626" stroke-width="1.2"/>
<rect x="407.60" y="394.30" width="12.40" height="21.70" fill="#8390b8"/>
<line x1="407.60" y1="406.50" x2="420.00" y2="406.50" stroke="#33496f" stroke-width="1.5"/>
<rect x="425.40" y="388.00" width="12.30" height="11.80" fill="#e9837a"/>
<line x1="425.40" y1="390.30" x2="437.70" y2="390.30" stroke="#ad232d" stroke-width="1.5"/>
<path d="M413.70 384.60 V381.60 H431.60 V384.60" fill="none" stroke="#444444" stroke-width="0.9"/>
<circle cx="422.65" cy="378.45" r="0.95" fill="#2a2a2a"/>
<text x="413.50" y="460.00" font-size="6.6" text-anchor="middle" fill="#4a72aa" font-weight="normal" >CD3<tspan font-size="4" dx="0.7" dy="-3.3">+</tspan></text>
<text x="432.00" y="460.00" font-size="6.6" text-anchor="middle" fill="#cc3a5c" font-weight="normal" >V&#948;2<tspan font-size="4" dx="0.7" dy="-3.3">+</tspan></text>
<line x1="471.50" y1="382.80" x2="471.50" y2="447.90" stroke="#262626" stroke-width="1.4"/>
<line x1="468.90" y1="384.80" x2="471.50" y2="384.80" stroke="#262626" stroke-width="1.2"/>
<text x="465.90" y="387.32" font-size="6.8" text-anchor="end" fill="#3c3c3c" font-weight="normal" >4000</text>
<line x1="468.90" y1="400.40" x2="471.50" y2="400.40" stroke="#262626" stroke-width="1.2"/>
<text x="465.90" y="402.92" font-size="6.8" text-anchor="end" fill="#3c3c3c" font-weight="normal" >3000</text>
<line x1="468.90" y1="416.00" x2="471.50" y2="416.00" stroke="#262626" stroke-width="1.2"/>
<text x="465.90" y="418.52" font-size="6.8" text-anchor="end" fill="#3c3c3c" font-weight="normal" >2000</text>
<line x1="468.90" y1="431.60" x2="471.50" y2="431.60" stroke="#262626" stroke-width="1.2"/>
<text x="465.90" y="434.12" font-size="6.8" text-anchor="end" fill="#3c3c3c" font-weight="normal" >1000</text>
<line x1="468.90" y1="447.20" x2="471.50" y2="447.20" stroke="#262626" stroke-width="1.2"/>
<text x="465.90" y="449.72" font-size="6.8" text-anchor="end" fill="#3c3c3c" font-weight="normal" >0</text>
<line x1="468.60" y1="447.20" x2="512.80" y2="447.20" stroke="#262626" stroke-width="1.5"/>
<line x1="482.80" y1="447.20" x2="482.80" y2="450.20" stroke="#262626" stroke-width="1.2"/>
<line x1="500.70" y1="447.20" x2="500.70" y2="450.20" stroke="#262626" stroke-width="1.2"/>
<rect x="476.70" y="401.50" width="12.40" height="42.50" fill="#8390b8"/>
<line x1="476.70" y1="414.00" x2="489.10" y2="414.00" stroke="#33496f" stroke-width="1.5"/>
<rect x="494.50" y="437.30" width="12.30" height="9.90" fill="#e9837a"/>
<line x1="494.50" y1="446.40" x2="506.80" y2="446.40" stroke="#ad232d" stroke-width="1.5"/>
<path d="M482.80 384.60 V381.60 H500.70 V384.60" fill="none" stroke="#444444" stroke-width="0.9"/>
<circle cx="491.75" cy="378.45" r="0.95" fill="#2a2a2a"/>
<text x="482.60" y="460.00" font-size="6.6" text-anchor="middle" fill="#4a72aa" font-weight="normal" >CD3<tspan font-size="4" dx="0.7" dy="-3.3">+</tspan></text>
<text x="501.10" y="460.00" font-size="6.6" text-anchor="middle" fill="#cc3a5c" font-weight="normal" >V&#948;2<tspan font-size="4" dx="0.7" dy="-3.3">+</tspan></text>
<text x="19.00" y="326.40" font-size="6.7" text-anchor="middle" fill="#5a7aae" font-weight="normal" >HD</text>
<text x="18.40" y="416.50" font-size="6.4" text-anchor="middle" fill="#c83e64" font-weight="normal" >HH</text>
<text transform="translate(33.9 324.3) rotate(-90)" font-size="6.6" text-anchor="middle" fill="#333" stroke="#333" stroke-width="0.15">MFI</text>
<text transform="translate(33.9 414.6) rotate(-90)" font-size="6.6" text-anchor="middle" fill="#333" stroke="#333" stroke-width="0.15">MFI</text>
<rect x="0.5" y="0.5" width="519" height="467" fill="none" stroke="#444" stroke-width="1"/>
</svg>
</body></html>
